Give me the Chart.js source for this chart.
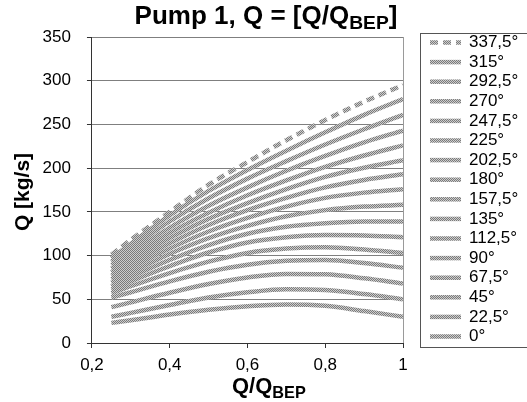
<!DOCTYPE html>
<html>
<head>
    <script src="https://cdn.jsdelivr.net/npm/chart.js"></script>
    <style>
        body { margin: 0; background: #fff; overflow: hidden; }
        #wrap { position: relative; width: 527px; height: 402px; }
        #chart { position: absolute; left: 0; top: 0; }
        .lbl { position: absolute; font-family: "Liberation Sans", Arial, sans-serif; font-weight: bold; color: #000; white-space: nowrap; }
        .lbl sub { font-size: 0.74em; line-height: 0; vertical-align: -0.28em; }
        #title { top: 1px; left: 0; width: 532px; text-align: center; font-size: 26px; line-height: 29px; }
        #xTitle { top: 374px; left: 232px; font-size: 22px; line-height: 24px; }
        #yTitle { top: 180px; left: -78px; width: 200px; text-align: center; font-size: 21px; line-height: 24px; transform: rotate(-90deg); }
    </style>
</head>
<body>
<div id="wrap">
    <canvas id="chart" width="527" height="402"></canvas>
    <div class="lbl" id="title">Pump 1, Q = [Q/Q<sub>BEP</sub>]</div>
    <div class="lbl" id="xTitle">Q/Q<sub>BEP</sub></div>
    <div class="lbl" id="yTitle">Q [kg/s]</div>
</div>
<script>
    // x positions (Q/Q_BEP) shared by every curve
    const qRatio = [0.25, 0.3, 0.4, 0.5, 0.6, 0.7, 0.8, 0.9, 1];

    const angleLabels = ['0°', '22,5°', '45°', '67,5°', '90°', '112,5°', '135°', '157,5°',
        '180°', '202,5°', '225°', '247,5°', '270°', '292,5°', '315°', '337,5°'];

    // Q [kg/s], one array per angle
    const q0    = [23, 26, 32.5, 38, 42, 44, 42.5, 36.5, 30];
    const q22_5 = [30, 34.5, 43.5, 52, 58, 61.5, 60.5, 56, 50];
    const q45   = [41, 46.5, 57.5, 67.5, 75, 79, 78.5, 74, 68];
    const q67_5 = [52, 58, 70.5, 81.5, 89.5, 94, 95, 91.5, 86];
    const q90   = [57, 65, 80, 93, 103, 108, 109.5, 107, 103];
    const q112_5 = [61, 70.5, 88, 103.5, 115, 121, 123.5, 123, 121];
    const q135  = [65, 75.5, 95, 112, 125, 133, 137, 139, 139];
    const q157_5 = [69, 80.5, 102, 120, 134, 145, 152, 156, 158];
    const q180  = [73, 85.5, 108, 127.5, 143, 156, 166, 172, 176];
    const q202_5 = [77, 90, 114, 135, 152, 166, 178, 186.5, 193];
    const q225  = [81, 94.5, 120, 142, 160, 176, 190, 200.5, 209];
    const q247_5 = [85, 99, 126, 149, 169, 186, 201.5, 214.5, 226];
    const q270  = [89, 104, 132, 157, 178, 197, 214, 229.5, 243];
    const q292_5 = [93, 108.5, 139, 165.5, 188, 208, 227, 244.5, 261];
    const q315  = [97, 113.5, 146, 174, 198, 220, 241, 261, 279];
    const q337_5 = [101, 118, 150, 181, 207, 232, 255, 276, 295];

    const series = [q0, q22_5, q45, q67_5, q90, q112_5, q135, q157_5,
        q180, q202_5, q225, q247_5, q270, q292_5, q315, q337_5];

    const ctx = document.getElementById('chart').getContext('2d');

    // dithered grey like the original print
    const tile = document.createElement('canvas');
    tile.width = 2; tile.height = 2;
    const tctx = tile.getContext('2d');
    tctx.fillStyle = '#cdcdcd';
    tctx.fillRect(0, 0, 2, 2);
    tctx.fillStyle = '#7a7a7a';
    tctx.fillRect(0, 0, 1, 1);
    tctx.fillRect(1, 1, 1, 1);
    const hatch = ctx.createPattern(tile, 'repeat');

    const datasets = series.map((vals, i) => ({
        label: angleLabels[i],
        data: qRatio.map((x, j) => ({ x: x, y: vals[j] })),
        borderColor: hatch,
        borderWidth: 4.5,
        borderDash: i === series.length - 1 ? [8, 5] : [],
        pointRadius: 0,
        fill: false,
        cubicInterpolationMode: 'monotone'
    }));

    const font = "'Liberation Sans', Arial, sans-serif";

    // plot frame + boxed legend on the right
    const framePlugin = {
        id: 'frame',
        beforeDatasetsDraw(chart) {
            const a = chart.chartArea;
            const c = chart.ctx;
            c.save();
            c.strokeStyle = '#9a9a9a';
            c.lineWidth = 1;
            c.beginPath();
            c.moveTo(a.right + 0.5, a.top);
            c.lineTo(a.right + 0.5, a.bottom);
            c.stroke();
            c.restore();
        },
        afterDraw(chart) {
            const a = chart.chartArea;
            const c = chart.ctx;
            const left = a.right + 17;
            c.save();
            c.strokeStyle = '#555';
            c.lineWidth = 1;
            c.strokeRect(left + 0.5, a.top - 3.5, 200, a.bottom - a.top + 8);
            c.font = '17px ' + font;
            c.textBaseline = 'middle';
            c.fillStyle = '#000';
            const ds = chart.data.datasets;
            for (let k = 0; k < ds.length; k++) {
                const d = ds[ds.length - 1 - k];
                const y = a.top + 5.5 + k * 19.6;
                c.strokeStyle = d.borderColor;
                c.lineWidth = d.borderWidth;
                c.setLineDash(d.borderDash);
                c.beginPath();
                c.moveTo(left + 10, y);
                c.lineTo(left + 41, y);
                c.stroke();
                c.setLineDash([]);
                c.fillText(d.label, left + 49, y);
            }
            c.restore();
        }
    };

    new Chart(ctx, {
        type: 'line',
        data: { datasets: datasets },
        options: {
            responsive: false,
            animation: false,
            devicePixelRatio: 1,
            layout: { padding: { left: 26.6, top: 37, right: 124, bottom: 19.6 } },
            plugins: { legend: { display: false }, tooltip: { enabled: false } },
            scales: {
                x: {
                    type: 'linear',
                    min: 0.2,
                    max: 1,
                    ticks: {
                        stepSize: 0.2,
                        padding: 7,
                        color: '#000',
                        font: { family: font, size: 17 },
                        callback: v => Number(v.toFixed(1)).toString().replace('.', ',')
                    },
                    grid: { drawOnChartArea: false, tickLength: 5, tickColor: '#333' },
                    border: { color: '#333' }
                },
                y: {
                    min: 0,
                    max: 350,
                    ticks: {
                        stepSize: 50,
                        padding: 16,
                        color: '#000',
                        font: { family: font, size: 17 }
                    },
                    grid: { color: '#7f7f7f', tickLength: 5, tickColor: '#333' },
                    border: { color: '#333' }
                }
            }
        },
        plugins: [framePlugin]
    });
</script>
</body>
</html>
